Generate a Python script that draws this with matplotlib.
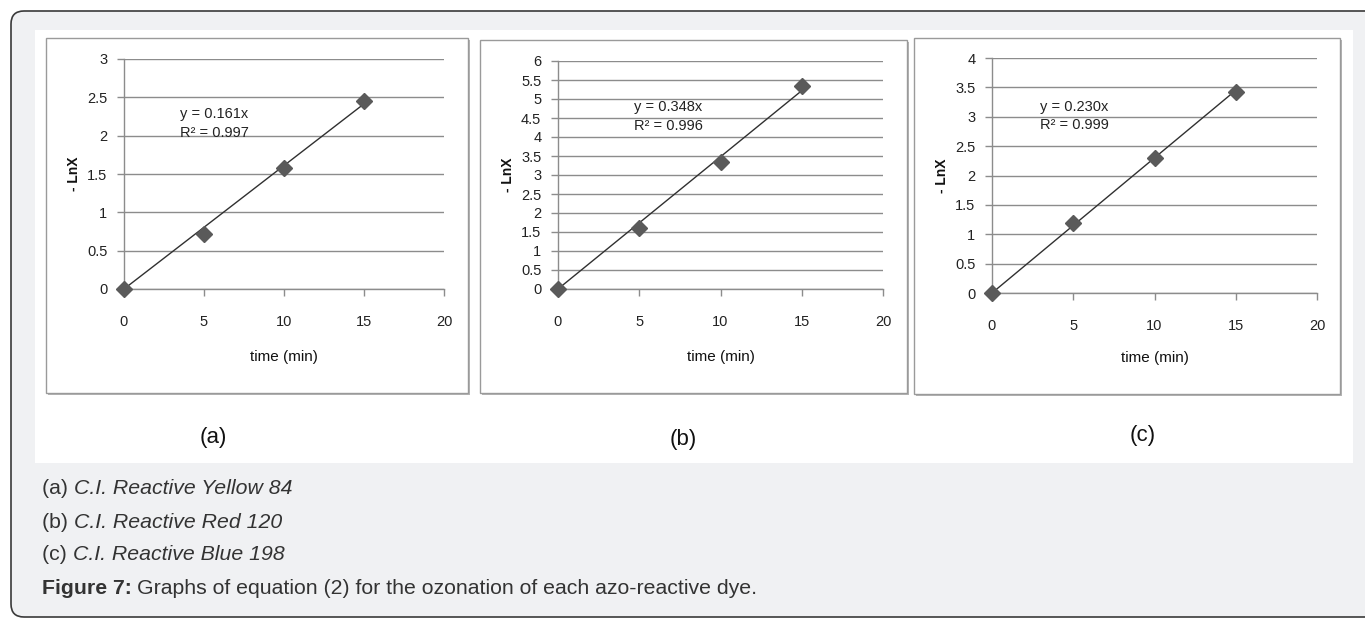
import matplotlib
matplotlib.use("Agg")
import matplotlib.pyplot as plt
from matplotlib.patches import FancyBboxPatch, Rectangle

W, H = 1365, 620

# ---- data ----
time_min = [0, 5, 10, 15]
lnx_a = [0.0, 0.72, 1.58, 2.45]
lnx_b = [0.0, 1.60, 3.35, 5.35]
lnx_c = [0.0, 1.20, 2.30, 3.42]
slopes = [0.161, 0.348, 0.230]
r2 = ["0.997", "0.996", "0.999"]
ymax = [3, 6, 4]
ystep = [0.5, 0.5, 0.5]
panel_tags = ["(a)", "(b)", "(c)"]
dye_names = ["C.I. Reactive Yellow 84", "C.I. Reactive Red 120", "C.I. Reactive Blue 198"]
caption = "Graphs of equation (2) for the ozonation of each azo-reactive dye."

NARROW = ["Liberation Sans", "DejaVu Sans"]
SANS = ["Liberation Sans", "DejaVu Sans"]

fig = plt.figure(figsize=(W / 100, H / 100), dpi=100)
fig.patch.set_facecolor("white")

# 背景层，像素坐标
bg = fig.add_axes([0, 0, 1, 1], zorder=-5)
bg.set_xlim(0, W)
bg.set_ylim(H, 0)
bg.axis("off")
bg.add_patch(FancyBboxPatch((11, 11), W + 40, 606,
                            boxstyle="round,pad=0,rounding_size=13",
                            facecolor="#f0f1f3", edgecolor="#3a3a3a", linewidth=1.2))
bg.add_patch(Rectangle((35, 30), 1318, 433, facecolor="white", edgecolor="none"))

# 面板框 (px) 和绘图区 (px: left, right, top, bottom)
boxes = [(46, 38, 422, 355), (480, 40, 427, 353), (914, 38, 426, 356)]
areas = [(124, 444, 59, 289), (558, 883, 61, 289), (992, 1317, 58, 293)]
tag_pos = [(213, 437), (683, 440), (1143, 435)]
eq_pos = [(3.5, 2.37), (4.7, 4.97), (2.95, 3.29)]
xlab_y = [-0.296, -0.298, -0.277]
series = [lnx_a, lnx_b, lnx_c]

for (bx, by, bw, bh) in boxes:
    bg.add_patch(Rectangle((bx + 1.5, by + 1.5), bw, bh, facecolor="#b5b5b5", edgecolor="none"))
    bg.add_patch(Rectangle((bx, by), bw, bh, facecolor="white", edgecolor="#9a9a9a", linewidth=1.0))

for i in range(3):
    l, r, t, b = areas[i]
    ax = fig.add_axes([l / W, 1 - b / H, (r - l) / W, (b - t) / H])
    ax.set_facecolor("none")
    ax.set_xlim(0, 20)
    ax.set_ylim(0, ymax[i])
    yt = [k * ystep[i] for k in range(int(ymax[i] / ystep[i]) + 1)]
    ax.set_yticks(yt)
    ax.set_yticklabels([f"{v:g}" for v in yt])
    ax.set_xticks([0, 5, 10, 15, 20])
    ax.grid(axis="y", color="#8c8c8c", linewidth=1.0)
    ax.set_axisbelow(True)
    for s in ["top", "right"]:
        ax.spines[s].set_visible(False)
    for s in ["left", "bottom"]:
        ax.spines[s].set_color("#8c8c8c")
        ax.spines[s].set_linewidth(1.0)
    ax.tick_params(axis="both", colors="#8c8c8c", length=5, width=1.0, labelcolor="#222222",
                   labelsize=10.5)
    ax.tick_params(axis="x", pad=14)
    ax.tick_params(axis="y", pad=7)
    for lab in ax.get_xticklabels() + ax.get_yticklabels():
        lab.set_family(NARROW)

    ax.plot([0, 15], [0, slopes[i] * 15], color="#303030", linewidth=1.0, zorder=3)
    ax.plot(time_min, series[i], linestyle="none", marker="D", markersize=8,
            color="#5a5a5a", clip_on=False, zorder=4)

    ax.text(eq_pos[i][0], eq_pos[i][1], f"y = {slopes[i]:.3f}x\nR² = {r2[i]}",
            fontsize=10.5, family=NARROW, color="#222222", va="top", ha="left",
            linespacing=1.4)
    ax.set_xlabel("time (min)", family=NARROW, fontsize=11, color="#111111")
    ax.xaxis.set_label_coords(0.5, xlab_y[i])
    ax.xaxis.label.set_va("center")
    ax.set_ylabel("- LnX", family=NARROW, fontsize=10, fontweight="bold", color="#111111")
    ax.yaxis.set_label_coords(-0.155, 0.5)
    ax.yaxis.label.set_va("center")

    bg.text(tag_pos[i][0], tag_pos[i][1], panel_tags[i], family=NARROW, fontsize=16,
            ha="center", va="center", color="#111111")

# 图注
cap_y = [489, 522, 554, 588]
FS = 15.3
for j in range(3):
    t1 = bg.text(42, cap_y[j], panel_tags[j] + " ", family=SANS, fontsize=FS,
                 ha="left", va="center", color="#333333")
    fig.canvas.draw()
    bb = t1.get_window_extent()
    bg.text(bb.x1, cap_y[j], dye_names[j], family=SANS, fontsize=FS, style="italic",
            ha="left", va="center", color="#333333")
t2 = bg.text(42, cap_y[3], "Figure 7:", family=SANS, fontsize=FS, fontweight="bold",
             ha="left", va="center", color="#333333")
fig.canvas.draw()
bb = t2.get_window_extent()
bg.text(bb.x1 + 5, cap_y[3], caption, family=SANS, fontsize=FS,
        ha="left", va="center", color="#333333")

fig.savefig("out.png", dpi=100)
